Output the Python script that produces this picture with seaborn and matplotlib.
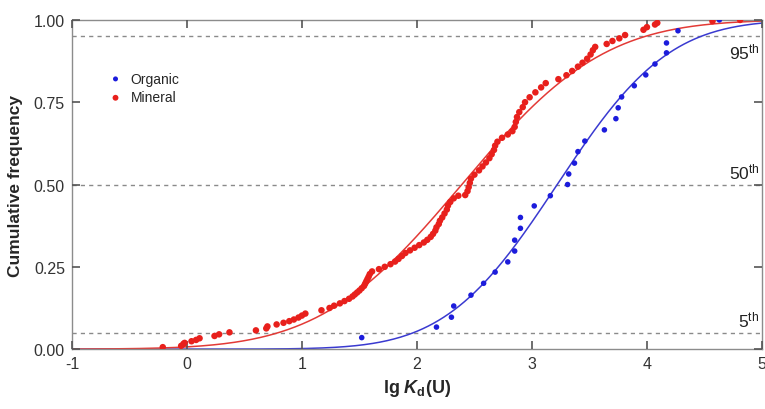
import math
import numpy as np
import pandas as pd
import matplotlib
matplotlib.use("Agg")
import matplotlib.pyplot as plt
import seaborn as sns

sns.set_style("ticks")
plt.rcParams["font.family"] = ["Liberation Sans", "DejaVu Sans"]
plt.rcParams["axes.unicode_minus"] = False
plt.rcParams["axes.axisbelow"] = False
plt.rcParams["mathtext.fontset"] = "custom"
plt.rcParams["mathtext.rm"] = "Liberation Sans"
plt.rcParams["mathtext.it"] = "Liberation Sans:italic:bold"
plt.rcParams["mathtext.bf"] = "Liberation Sans:bold"
# ticks on all four sides, pointing in
for a in ["x", "y"]:
    plt.rcParams[a + "tick.direction"] = "in"
    plt.rcParams[a + "tick.major.size"] = 6
    plt.rcParams[a + "tick.major.width"] = 1.2
    plt.rcParams[a + "tick.color"] = "#555555"
plt.rcParams["xtick.bottom"] = True
plt.rcParams["xtick.top"] = True
plt.rcParams["ytick.left"] = True
plt.rcParams["ytick.right"] = True

# organic samples: lg Kd(U) and cumulative frequency
organic_x = [1.52, 2.17, 2.30, 2.32, 2.47, 2.58, 2.68, 2.79, 2.85, 2.85,
             2.90, 2.90, 3.02, 3.16, 3.31, 3.32, 3.37, 3.40, 3.46, 3.63,
             3.73, 3.75, 3.78, 3.89, 3.99, 4.07, 4.17, 4.17, 4.27, 4.63]
organic_y = [0.035, 0.067, 0.097, 0.131, 0.164, 0.200, 0.234, 0.265, 0.298, 0.331,
             0.367, 0.400, 0.435, 0.466, 0.500, 0.532, 0.565, 0.600, 0.632, 0.666,
             0.700, 0.733, 0.766, 0.800, 0.833, 0.866, 0.900, 0.930, 0.967, 1.000]

# mineral samples
mineral_x = [-0.21, -0.05, -0.03, -0.02, 0.04, 0.08, 0.11, 0.24, 0.28, 0.37,
             0.60, 0.69, 0.70, 0.78, 0.84, 0.89, 0.93, 0.97, 1.00, 1.03,
             1.17, 1.24, 1.28, 1.33, 1.37, 1.41, 1.44, 1.46, 1.48, 1.50,
             1.52, 1.54, 1.55, 1.56, 1.57, 1.58, 1.59, 1.61, 1.67, 1.72,
             1.77, 1.81, 1.84, 1.87, 1.90, 1.94, 1.98, 2.02, 2.06, 2.09,
             2.12, 2.14, 2.16, 2.17, 2.19, 2.20, 2.22, 2.24, 2.26, 2.27,
             2.29, 2.32, 2.36, 2.42, 2.44, 2.45, 2.46, 2.47, 2.50, 2.54,
             2.57, 2.60, 2.63, 2.65, 2.67, 2.68, 2.70, 2.74, 2.79, 2.83,
             2.85, 2.86, 2.87, 2.89, 2.92, 2.94, 2.98, 3.03, 3.08, 3.12,
             3.23, 3.30, 3.35, 3.40, 3.44, 3.48, 3.51, 3.53, 3.55, 3.65,
             3.70, 3.76, 3.81, 3.97, 4.00, 4.07, 4.09, 4.57, 4.81]
mineral_y = [0.006, 0.010, 0.016, 0.019, 0.024, 0.028, 0.033, 0.040, 0.045, 0.051,
             0.057, 0.063, 0.069, 0.075, 0.080, 0.085, 0.090, 0.096, 0.102, 0.108,
             0.118, 0.125, 0.132, 0.139, 0.146, 0.153, 0.160, 0.166, 0.172, 0.178,
             0.185, 0.192, 0.199, 0.206, 0.213, 0.220, 0.228, 0.236, 0.243, 0.250,
             0.258, 0.266, 0.274, 0.283, 0.292, 0.300, 0.308, 0.316, 0.324, 0.332,
             0.341, 0.350, 0.360, 0.370, 0.380, 0.390, 0.400, 0.412, 0.424, 0.436,
             0.447, 0.458, 0.466, 0.468, 0.480, 0.492, 0.505, 0.518, 0.530, 0.543,
             0.555, 0.567, 0.580, 0.592, 0.605, 0.618, 0.630, 0.642, 0.652, 0.662,
             0.675, 0.690, 0.705, 0.720, 0.735, 0.750, 0.765, 0.780, 0.795, 0.808,
             0.820, 0.832, 0.845, 0.858, 0.870, 0.882, 0.895, 0.908, 0.918, 0.927,
             0.936, 0.944, 0.954, 0.970, 0.978, 0.986, 0.991, 0.996, 1.000]

# lognormal fit parameters (mean, sd of lg Kd)
fit_params = {"Organic": (3.22, 0.76), "Mineral": (2.39, 0.97)}
colors = {"Organic": "#1c1cdc", "Mineral": "#e8201c"}
line_colors = {"Organic": "#3a3ad0", "Mineral": "#e33a36"}

percentiles = [0.05, 0.50, 0.95]
percentile_labels = ["5$^{\\mathrm{th}}$", "50$^{\\mathrm{th}}$", "95$^{\\mathrm{th}}$"]

fig = plt.figure(figsize=(7.65, 4.1), dpi=100)
ax = fig.add_axes([0.094, 0.146, 0.902, 0.803])

for p in percentiles:
    ax.axhline(p, color="#8a8a8a", lw=1, ls=(0, (3, 3)), zorder=1)

grid = np.linspace(-1, 5, 400)
for name, (mu, sd) in fit_params.items():
    cdf = [0.5 * (1 + math.erf((g - mu) / (sd * math.sqrt(2)))) for g in grid]
    sns.lineplot(x=grid, y=cdf, color=line_colors[name], lw=1.1, ax=ax, zorder=2)

sns.scatterplot(x=organic_x, y=organic_y, color=colors["Organic"], s=16,
                edgecolor="none", label="Organic", ax=ax, zorder=3)
sns.scatterplot(x=mineral_x, y=mineral_y, color=colors["Mineral"], s=22,
                edgecolor="none", label="Mineral", ax=ax, zorder=3)

ax.set_xlim(-1, 5)
ax.set_ylim(0, 1)
ax.set_xticks(range(-1, 6))
ax.set_yticks([0, 0.25, 0.5, 0.75, 1.0])
ax.set_yticklabels(["0.00", "0.25", "0.50", "0.75", "1.00"])
ax.tick_params(labelsize=11.5, labelcolor="#333333", pad=5)
for s in ax.spines.values():
    s.set_visible(True)
    s.set_color("#8c8c8c")
    s.set_linewidth(1)

ax.set_ylabel("Cumulative frequency", fontsize=12.5, fontweight="bold", labelpad=8)
ax.set_xlabel("lg $K_\\mathbf{d}$(U)", fontsize=13, fontweight="bold", labelpad=4)

ax.text(4.98, 0.06, percentile_labels[0], ha="right", va="bottom", fontsize=12.5, color="#222222")
ax.text(4.98, 0.51, percentile_labels[1], ha="right", va="bottom", fontsize=12.5, color="#222222")
ax.text(4.98, 0.935, percentile_labels[2], ha="right", va="top", fontsize=12.5, color="#222222")

ax.legend(loc="upper left", bbox_to_anchor=(0.035, 0.86), frameon=False, fontsize=10,
          handletextpad=0.1, labelspacing=0.35, markerscale=0.9, borderaxespad=0)

# make sure every tick line is drawn
for tl in ax.xaxis.get_ticklines() + ax.yaxis.get_ticklines():
    tl.set_visible(True)
    tl.set_color("#555555")
    tl.set_markersize(6)
    tl.set_markeredgewidth(1.2)
    tl.set_zorder(5)

fig.savefig("out.png", dpi=100)
